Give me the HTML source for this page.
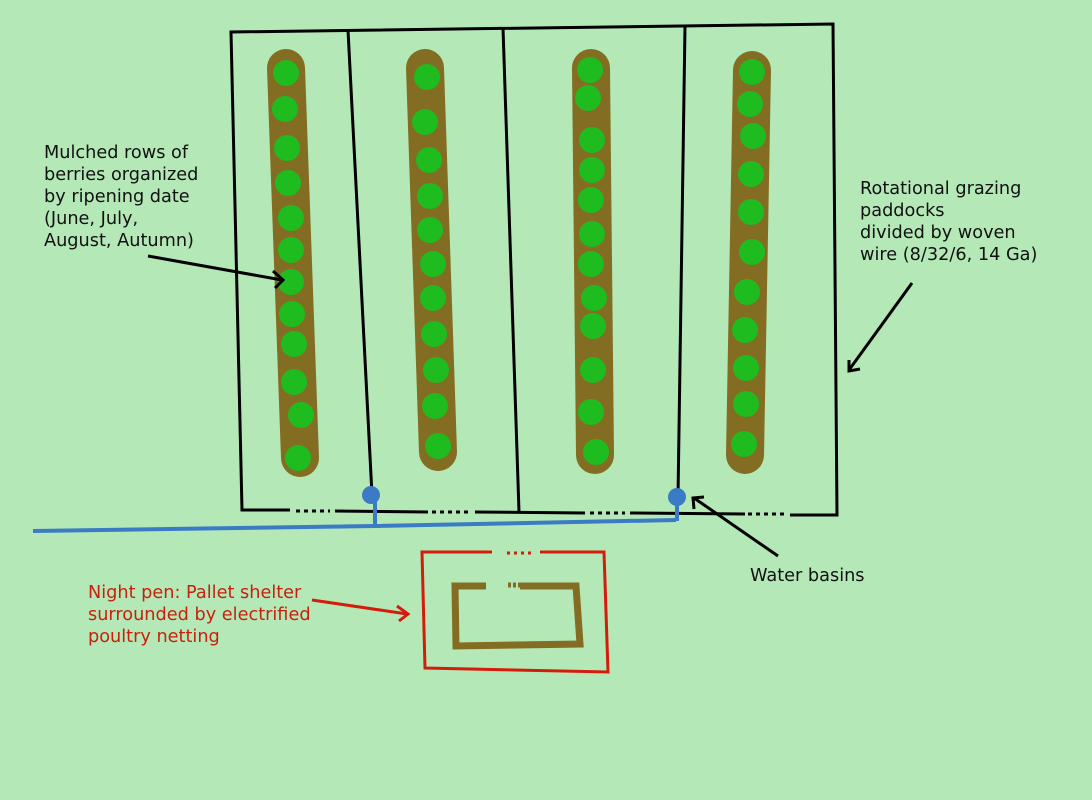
<!DOCTYPE html>
<html><head><meta charset="utf-8"><style>
html,body{margin:0;padding:0;background:#b5e8b7;}
svg{display:block}
text{font-family:"DejaVu Sans","Liberation Sans",sans-serif;font-size:17.7px}
</style></head><body>
<svg width="1092" height="800" viewBox="0 0 1092 800" xmlns="http://www.w3.org/2000/svg">
<rect width="1092" height="800" fill="#b5e8b7"/>
<g stroke="#836d22" stroke-width="38" stroke-linecap="round">
<line x1="286" y1="68" x2="300" y2="458"/>
<line x1="425" y1="68" x2="438" y2="452"/>
<line x1="591" y1="68" x2="595" y2="455"/>
<line x1="752" y1="70" x2="745" y2="455"/>
</g>
<g fill="#1fbc1f">
<circle cx="286" cy="73" r="13"/><circle cx="285" cy="109" r="13"/><circle cx="287" cy="148" r="13"/><circle cx="288" cy="183" r="13"/><circle cx="291" cy="218" r="13"/><circle cx="291" cy="250" r="13"/><circle cx="291" cy="282" r="13"/><circle cx="292" cy="314" r="13"/><circle cx="294" cy="344" r="13"/><circle cx="294" cy="382" r="13"/><circle cx="301" cy="415" r="13"/><circle cx="298" cy="458" r="13"/>
<circle cx="427" cy="77" r="13"/><circle cx="425" cy="122" r="13"/><circle cx="429" cy="160" r="13"/><circle cx="430" cy="196" r="13"/><circle cx="430" cy="230" r="13"/><circle cx="433" cy="264" r="13"/><circle cx="433" cy="298" r="13"/><circle cx="434" cy="334" r="13"/><circle cx="436" cy="370" r="13"/><circle cx="435" cy="406" r="13"/><circle cx="438" cy="446" r="13"/>
<circle cx="590" cy="70" r="13"/><circle cx="588" cy="98" r="13"/><circle cx="592" cy="140" r="13"/><circle cx="592" cy="170" r="13"/><circle cx="591" cy="200" r="13"/><circle cx="592" cy="234" r="13"/><circle cx="591" cy="264" r="13"/><circle cx="594" cy="298" r="13"/><circle cx="593" cy="326" r="13"/><circle cx="593" cy="370" r="13"/><circle cx="591" cy="412" r="13"/><circle cx="596" cy="452" r="13"/>
<circle cx="752" cy="72" r="13"/><circle cx="750" cy="104" r="13"/><circle cx="753" cy="136" r="13"/><circle cx="751" cy="174" r="13"/><circle cx="751" cy="212" r="13"/><circle cx="752" cy="252" r="13"/><circle cx="747" cy="292" r="13"/><circle cx="745" cy="330" r="13"/><circle cx="746" cy="368" r="13"/><circle cx="746" cy="404" r="13"/><circle cx="744" cy="444" r="13"/>
</g>
<g stroke="#000" stroke-width="3" fill="none">
<polyline points="290,510 242,510 231,32 833,24 837,515 790,515"/>
<line x1="335" y1="511" x2="428" y2="512"/>
<line x1="475" y1="512" x2="585" y2="513"/>
<line x1="630" y1="513" x2="745" y2="514"/>
<line x1="348" y1="30" x2="372" y2="495"/>
<line x1="503" y1="28" x2="519" y2="512"/>
<line x1="685" y1="26" x2="678" y2="497"/>
</g>
<g stroke="#000" stroke-width="3" stroke-dasharray="4 4">
<line x1="296" y1="511" x2="330" y2="511"/>
<line x1="432" y1="512" x2="470" y2="512"/>
<line x1="590" y1="513" x2="625" y2="513"/>
<line x1="748" y1="514" x2="785" y2="514"/>
</g>
<g stroke="#3b7bc6" stroke-width="4" fill="none">
<polyline points="33,531 376,526 676,520"/>
<line x1="375" y1="495" x2="375" y2="527"/>
<line x1="677" y1="497" x2="677" y2="521"/>
</g>
<circle cx="371" cy="495" r="9" fill="#3b7bc6"/>
<circle cx="677" cy="497" r="9" fill="#3b7bc6"/>
<g stroke="#d41c0c" stroke-width="3" fill="none">
<polyline points="492,552 422,552 425,668 608,672 604,552 540,552"/>
</g>
<line x1="507" y1="553" x2="532" y2="553" stroke="#d41c0c" stroke-width="3" stroke-dasharray="3 4"/>
<g stroke="#836d22" stroke-width="7" fill="none">
<polyline points="486,586 455,586 456,646 580,644 576,586 520,586"/>
</g>
<line x1="508" y1="585" x2="522" y2="585" stroke="#836d22" stroke-width="5" stroke-dasharray="3 2"/>
<g stroke="#000" stroke-width="3" fill="none">
<line x1="148" y1="256" x2="282" y2="280"/>
<polyline points="273,271 283,280 275,288"/>
<line x1="912" y1="283" x2="849" y2="370"/>
<polyline points="849,360 849,371 860,369"/>
<line x1="778" y1="556" x2="694" y2="498"/>
<polyline points="694,509 693,498 704,497"/>
</g>
<g stroke="#d41c0c" stroke-width="3" fill="none">
<line x1="312" y1="600" x2="407" y2="614"/>
<polyline points="397,606 408,614 399,621"/>
</g>
<g fill="#111">
<text x="44" y="158">Mulched rows of</text>
<text x="44" y="180">berries organized</text>
<text x="44" y="202">by ripening date</text>
<text x="44" y="224">(June, July,</text>
<text x="44" y="246">August, Autumn)</text>
<text x="860" y="194">Rotational grazing</text>
<text x="860" y="216">paddocks</text>
<text x="860" y="238">divided by woven</text>
<text x="860" y="260">wire (8/32/6, 14 Ga)</text>
<text x="750" y="581">Water basins</text>
</g>
<g fill="#c8200c">
<text x="88" y="598">Night pen: Pallet shelter</text>
<text x="88" y="620">surrounded by electrified</text>
<text x="88" y="642">poultry netting</text>
</g>
</svg>
</body></html>
